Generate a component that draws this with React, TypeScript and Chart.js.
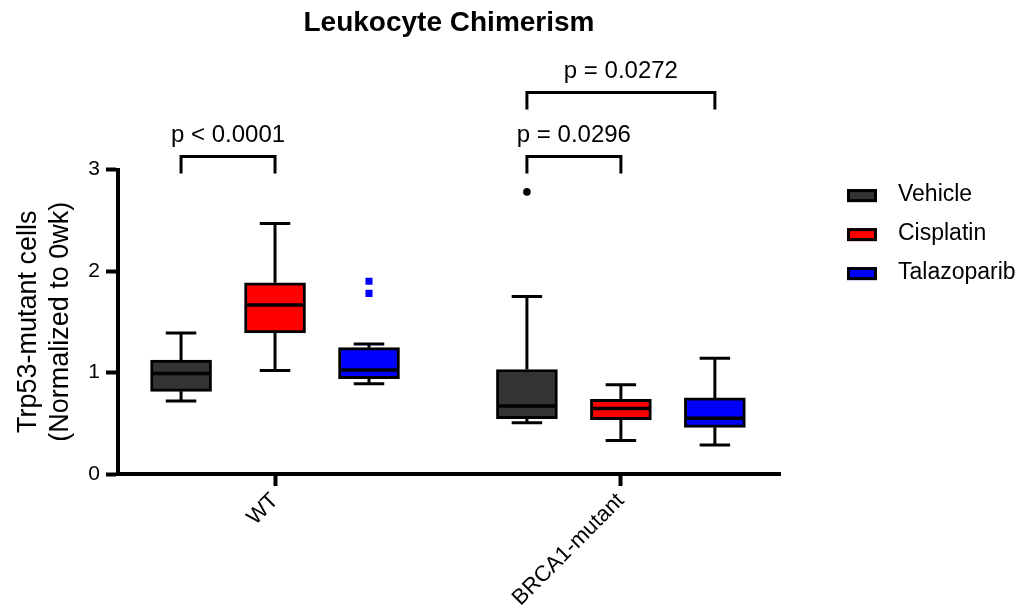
import React, { useEffect, useRef } from 'react';
import { Chart, registerables } from 'chart.js';

Chart.register(...registerables);

// ---------- data ----------
const groups = ['WT', 'BRCA1-mutant'];
const series = ['Vehicle', 'Cisplatin', 'Talazoparib'];
const seriesColors = ['#333333', '#ff0000', '#0000ff'];
const outlierColors = ['#000000', '#ff0000', '#0000ff'];
const outlierStyles = ['circle', 'circle', 'rect'];

// indexed [series][group]
const whiskerLow = [[0.72, 0.505], [1.02, 0.33], [0.89, 0.285]];
const quartile1 = [[0.815, 0.545], [1.39, 0.535], [0.94, 0.46]];
const medians = [[0.99, 0.67], [1.665, 0.645], [1.025, 0.55]];
const quartile3 = [[1.122, 1.03], [1.885, 0.735], [1.245, 0.75]];
const whiskerHigh = [[1.39, 1.75], [2.47, 0.88], [1.28, 1.14]];
const outliers = [[[], [2.78]], [[], []], [[1.9, 1.78], []]];

// significance brackets
const pLabels = ['p < 0.0001', 'p = 0.0296', 'p = 0.0272'];
const pGroup = [0, 1, 1];
const pFrom = [0, 0, 0];
const pTo = [1, 1, 2];
const pLevel = [3.13, 3.13, 3.76];

const yMin = 0;
const yMax = 3;
const yStep = 1;

// ---------- layout ----------
const seriesOffsets = [-0.2717, 0, 0.2717];
const FONT = "'Liberation Sans', Arial, Helvetica, sans-serif";

const boxPartsPlugin = {
  id: 'boxParts',
  afterDatasetsDraw(chart: any) {
    const ctx = chart.ctx;
    const ys = chart.scales.y;
    series.forEach((_, si) => {
      const meta = chart.getDatasetMeta(si);
      meta.data.forEach((el: any, gi: number) => {
        const cx = el.x;
        const w = el.width;
        const yHi = ys.getPixelForValue(whiskerHigh[si][gi]);
        const yLo = ys.getPixelForValue(whiskerLow[si][gi]);
        const yQ3 = ys.getPixelForValue(quartile3[si][gi]);
        const yQ1 = ys.getPixelForValue(quartile1[si][gi]);
        const yMed = ys.getPixelForValue(medians[si][gi]);
        ctx.save();
        ctx.strokeStyle = '#000';
        ctx.lineWidth = 3;
        ctx.beginPath();
        ctx.moveTo(cx, yQ3);
        ctx.lineTo(cx, yHi);
        ctx.moveTo(cx - w / 4, yHi);
        ctx.lineTo(cx + w / 4, yHi);
        ctx.moveTo(cx, yQ1);
        ctx.lineTo(cx, yLo);
        ctx.moveTo(cx - w / 4, yLo);
        ctx.lineTo(cx + w / 4, yLo);
        ctx.stroke();
        ctx.lineWidth = 3.5;
        ctx.beginPath();
        ctx.moveTo(cx - w / 2 + 1.5, yMed);
        ctx.lineTo(cx + w / 2 - 1.5, yMed);
        ctx.stroke();
        ctx.restore();
      });
    });
  },
};

const annotationsPlugin = {
  id: 'annotations',
  afterDraw(chart: any) {
    const ctx = chart.ctx;
    const xs = chart.scales.x;
    const ys = chart.scales.y;
    const area = chart.chartArea;
    ctx.save();
    // brackets
    ctx.strokeStyle = '#000';
    ctx.fillStyle = '#000';
    ctx.lineWidth = 3;
    ctx.font = `24px ${FONT}`;
    ctx.textAlign = 'center';
    ctx.textBaseline = 'alphabetic';
    pLabels.forEach((lab, i) => {
      const g = pGroup[i] + 1;
      const x1 = xs.getPixelForValue(g + seriesOffsets[pFrom[i]]);
      const x2 = xs.getPixelForValue(g + seriesOffsets[pTo[i]]);
      const yTop = ys.getPixelForValue(pLevel[i]);
      const yLeg = yTop + 17;
      ctx.beginPath();
      ctx.moveTo(x1, yLeg);
      ctx.lineTo(x1, yTop);
      ctx.lineTo(x2, yTop);
      ctx.lineTo(x2, yLeg);
      ctx.stroke();
      ctx.fillText(lab, (x1 + x2) / 2, yTop - 14);
    });
    // legend
    ctx.font = `23px ${FONT}`;
    ctx.textAlign = 'left';
    ctx.textBaseline = 'middle';
    series.forEach((name, si) => {
      const bx = area.right + 67;
      const cy = area.top + 26 + si * 39;
      ctx.fillStyle = seriesColors[si];
      ctx.fillRect(bx, cy - 6.5, 30, 13);
      ctx.lineWidth = 3;
      ctx.strokeStyle = '#000';
      ctx.strokeRect(bx + 1.5, cy - 5, 27, 10);
      ctx.fillStyle = '#000';
      ctx.fillText(name, bx + 51, cy - 1);
    });
    ctx.restore();
  },
};

export default function App() {
  const ref = useRef<HTMLCanvasElement | null>(null);

  useEffect(() => {
    if (!ref.current) return;
    Chart.defaults.font.family = FONT;
    Chart.defaults.color = '#000';

    const boxDatasets = series.map((name, si) => ({
      type: 'bar' as const,
      label: name,
      data: groups.map((_, gi) => ({
        x: gi + 1 + seriesOffsets[si],
        y: [quartile1[si][gi], quartile3[si][gi]],
      })),
      backgroundColor: seriesColors[si],
      borderColor: '#000',
      borderWidth: 3,
      borderSkipped: false,
      grouped: false,
      barThickness: 61,
      order: 1,
    }));

    const outlierDatasets = series
      .map((name, si) => ({
        type: 'scatter' as const,
        label: name + ' outliers',
        data: groups.flatMap((_, gi) =>
          outliers[si][gi].map((v) => ({ x: gi + 1 + seriesOffsets[si], y: v }))
        ),
        pointStyle: outlierStyles[si],
        pointRadius: outlierStyles[si] === 'rect' ? 5 : 3.8,
        backgroundColor: outlierColors[si],
        borderColor: outlierColors[si],
        borderWidth: 0,
        order: 0,
      }))
      .filter((d) => d.data.length > 0);

    const chart = new Chart(ref.current, {
      type: 'bar',
      data: { datasets: [...boxDatasets, ...outlierDatasets] as any },
      options: {
        responsive: false,
        animation: false,
        devicePixelRatio: 1,
        layout: { padding: { left: 0, right: 241, top: 0, bottom: 0 } },
        plugins: {
          legend: { display: false },
          tooltip: { enabled: false },
          title: {
            display: true,
            fullSize: false,
            text: 'Leukocyte Chimerism',
            color: '#000',
            font: { size: 28, weight: 'bold', family: FONT, lineHeight: 1.2 },
            padding: { top: 6, bottom: 130 },
          },
        },
        scales: {
          x: {
            type: 'linear',
            min: 0.546,
            max: 2.46,
            offset: false,
            afterBuildTicks: (scale: any) => {
              scale.ticks = groups.map((_, gi) => ({ value: gi + 1 }));
            },
            afterFit: (scale: any) => {
              scale.height = 142;
            },
            ticks: {
              autoSkip: false,
              minRotation: 45,
              maxRotation: 45,
              padding: 2,
              color: '#000',
              font: { size: 22, family: FONT },
              callback: (v: any) => groups[Math.round(Number(v)) - 1] ?? '',
            },
            grid: {
              offset: false,
              drawOnChartArea: false,
              drawTicks: true,
              tickLength: 12,
              tickWidth: 4,
              tickColor: '#000',
              color: '#000',
            },
            border: { display: true, width: 4, color: '#000' },
          },
          y: {
            type: 'linear',
            min: yMin,
            max: yMax,
            afterFit: (scale: any) => {
              scale.width = 118;
            },
            ticks: {
              stepSize: yStep,
              padding: 6,
              color: '#000',
              font: { size: 21, family: FONT },
            },
            grid: {
              drawOnChartArea: false,
              drawTicks: true,
              tickLength: 12,
              tickWidth: 4,
              tickColor: '#000',
              color: '#000',
            },
            border: { display: true, width: 4, color: '#000' },
            title: {
              display: true,
              text: ['Trp53-mutant cells', '(Normalized to 0wk)'],
              color: '#000',
              font: { size: 27, family: FONT, lineHeight: 1.2 },
              padding: { top: 12, bottom: 0 },
            },
          },
        },
      },
      plugins: [boxPartsPlugin, annotationsPlugin],
    });

    return () => chart.destroy();
  }, []);

  return (
    <div style={{ position: 'fixed', left: 0, top: 0, width: 1021, height: 616, background: '#fff' }}>
      <canvas ref={ref} width={1021} height={616} style={{ display: 'block' }} />
    </div>
  );
}
